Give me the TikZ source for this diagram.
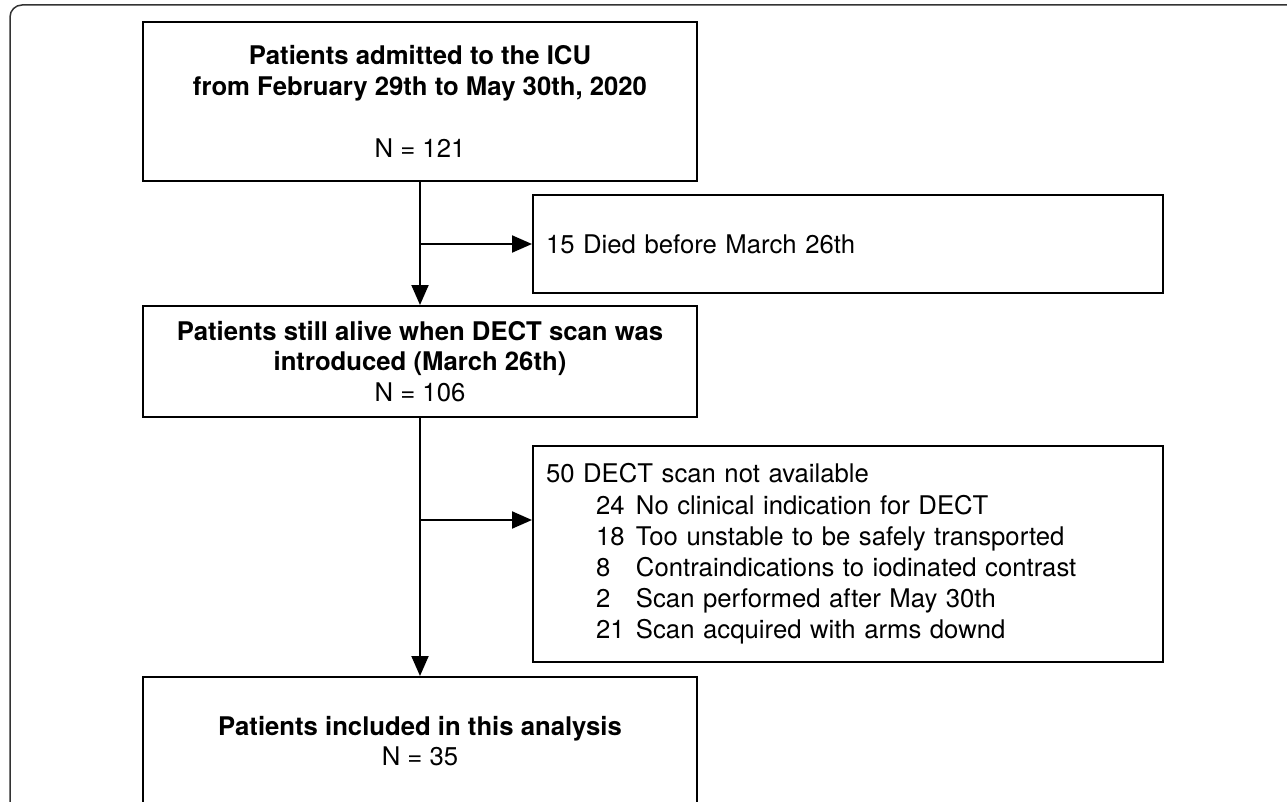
\documentclass[tikz,border=0pt]{standalone}
\usepackage{fontspec}
\setmainfont{TeX Gyre Heros}
\usetikzlibrary{arrows.meta}

\tikzset{
  flowbox/.style={draw, line width=2pt, inner sep=0pt, minimum width=554pt, align=center},
  sidebox/.style={draw, line width=2pt, inner xsep=13pt, inner ysep=0pt, text width=604pt, align=left},
  flowarrow/.style={line width=2pt, -{Triangle[length=20pt,width=17pt]}},
}
\newcommand{\exclitem}[2]{\hspace*{50pt}\makebox[40pt][l]{#1}#2}

\begin{document}
\begin{tikzpicture}[x=1pt, y=-1pt, font=\fontsize{25.7pt}{30.8pt}\selectfont]
  \clip (0,0) rectangle (1287,802);
  % outer frame
  \draw[line width=1.5pt, black!80, rounded corners=12pt] (10,820) -- (10,5) -- (1300,5);

  \node[flowbox, minimum height=159pt] (admitted) at (420,101.5) {\textbf{Patients admitted to the ICU}\\\textbf{from February 29th to May 30th, 2020}\\[30.8pt]N = 121};
  \node[sidebox, minimum height=98pt, anchor=west] (died) at (532,244) {15 Died before March 26th};
  \node[flowbox, minimum height=111pt] (alive) at (420,361.5) {\textbf{Patients still alive when DECT scan was}\\\textbf{introduced (March 26th)}\\N = 106};
  \node[sidebox, minimum height=216pt, anchor=west, font=\fontsize{25.7pt}{31.2pt}\selectfont] (excluded) at (532,554) {50 DECT scan not available\\
    \exclitem{24}{No clinical indication for DECT}\\
    \exclitem{18}{Too unstable to be safely transported}\\
    \exclitem{8}{Contraindications to iodinated contrast}\\
    \exclitem{2}{Scan performed after May 30th}\\
    \exclitem{21}{Scan acquired with arms downd}};
  \node[flowbox, anchor=north, inner ysep=39pt] (included) at (420,676) {\textbf{Patients included in this analysis}\\N = 35};

  \coordinate (split1) at (420,244);
  \coordinate (split2) at (420,520);

  \draw[flowarrow] (admitted) -- (alive);
  \draw[flowarrow] (split1) -- (died);
  \draw[flowarrow] (alive) -- (included);
  \draw[flowarrow] (split2) -- (split2 -| excluded.west);
\end{tikzpicture}
\end{document}
